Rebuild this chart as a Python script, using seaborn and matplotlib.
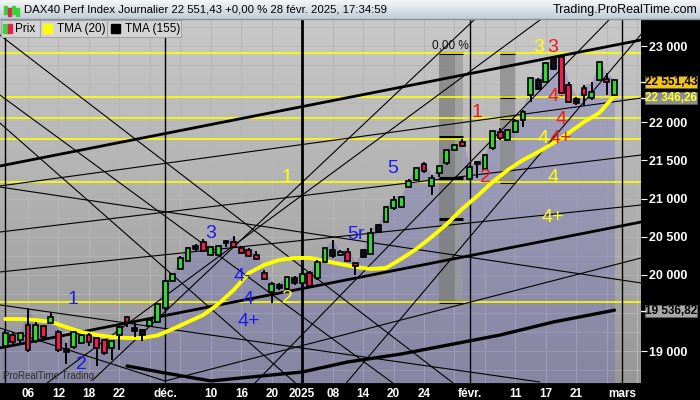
import numpy as np
import pandas as pd
import matplotlib
matplotlib.use("Agg")
import matplotlib.pyplot as plt
import seaborn as sns
from matplotlib.patches import Rectangle
from matplotlib.colors import LinearSegmentedColormap

sns.set_style("white")
plt.rcParams['font.family'] = ['Liberation Sans', 'DejaVu Sans']

# ---- daily candles, 1 nov 2024 -> 28 feb 2025 (trading day index) ----
opens = [19068, 19212, 19147, 19343, 19134, 19330, 19370, 19252, 19010, 19055,
         19108, 19212, 19173, 19147, 19042, 19212, 19448, 19304, 19278, 19330,
         19383, 19566, 19920, 20077, 20182, 20379, 20431, 20261, 20261, 20431,
         20431, 20353, 20326, 20261, 20025, 19776, 19868, 19815, 19959, 19894,
         20025, 19959, 20169, 20326, 20261, 20300, 20156, 20326, 20274, 20654,
         20693, 20877, 20890, 21152, 21244, 21453, 21165, 21336, 21467, 21637,
         21742, 21257, 21480, 21388, 21663, 21873, 21768, 21873, 22030, 22358,
         22554, 22528, 22843, 22856, 22489, 22305, 22450, 22318, 22554, 22567,
         22358]
highs = [19278, 19252, 19252, 19566, 19383, 19343, 19514, 19278, 19108, 19260,
         19225, 19239, 19186, 19147, 19140, 19330, 19461, 19370, 19290, 19420,
         19632, 19933, 20025, 20248, 20366, 20405, 20470, 20380, 20390, 20457,
         20510, 20379, 20353, 20313, 20064, 19907, 19894, 19986, 19986, 20040,
         20050, 20195, 20366, 20457, 20320, 20353, 20160, 20340, 20615, 20670,
         20903, 21034, 21034, 21257, 21420, 21480, 21309, 21440, 21650, 21715,
         21780, 21440, 21493, 21584, 21899, 21925, 21910, 22030, 22161, 22594,
         22581, 22790, 22869, 22869, 22528, 22331, 22489, 22528, 22803, 22646,
         22565]
lows = [19042, 19081, 19100, 18990, 19108, 19147, 19370, 18990, 18832, 19030,
        19095, 19068, 18806, 18950, 18885, 19016, 19317, 19180, 19134, 19320,
        19370, 19540, 19907, 20064, 20169, 20313, 20300, 20250, 20250, 20366,
        20353, 20274, 20235, 20195, 19933, 19632, 19800, 19800, 19868, 19870,
        19842, 19933, 20156, 20221, 20250, 20169, 19999, 20221, 20261, 20549,
        20680, 20851, 20877, 21140, 21230, 21336, 21047, 21283, 21440, 21620,
        21676, 21244, 21270, 21375, 21637, 21768, 21755, 21860, 21938, 22266,
        22423, 22515, 22685, 22371, 22253, 22227, 22214, 22292, 22541, 22358,
        22345]
closes = [19239, 19121, 19239, 19016, 19343, 19186, 19448, 19016, 18995, 19252,
          19212, 19121, 19042, 18977, 19134, 19317, 19383, 19260, 19212, 19409,
          19619, 19920, 20012, 20221, 20353, 20340, 20313, 20366, 20379, 20420,
          20366, 20287, 20248, 20208, 19946, 19881, 19830, 19973, 19900, 20012,
          19855, 20169, 20353, 20250, 20300, 20182, 20117, 20235, 20549, 20562,
          20890, 20982, 21021, 21231, 21401, 21362, 21270, 21427, 21637, 21703,
          21689, 21414, 21453, 21571, 21886, 21794, 21899, 22017, 22135, 22581,
          22436, 22777, 22699, 22384, 22266, 22253, 22358, 22397, 22790, 22528,
          22551]
kinds = list("grgrgrgrkg" "grrrggrkkg" "gggggkrggk" "rrrrrgkgkg" "rggkgrrkgk"
             "gggggrgggg" "rgkggrgggg" "kgkrrkrggr" "g")

# TMA (20) and TMA (155)
tma20_idx = [0, 2, 4, 6, 8, 10, 12, 14, 16, 18, 20, 22, 24, 26, 28, 30, 32, 34, 36, 38,
             40, 42, 44, 46, 48, 50, 52, 54, 56, 58, 60, 62, 64, 66, 68, 70, 72, 74, 76, 78, 80]
tma20_val = [19422, 19422, 19409, 19383, 19317, 19252, 19212, 19186, 19173, 19173,
             19206, 19291, 19383, 19474, 19619, 19802, 20025, 20130, 20196, 20222,
             20222, 20182, 20143, 20104, 20077, 20091, 20209, 20340, 20497, 20667,
             20864, 21034, 21218, 21375, 21506, 21611, 21729, 21860, 22004, 22122, 22346]
tma155_idx = [16, 21, 27, 39, 45, 52, 65, 72, 80]
tma155_val = [18806, 18714, 18610, 18727, 18859, 18963, 19212, 19383, 19537]

# axis ticks
tick_idx = [3, 7, 11, 15, 21, 27, 31, 35, 39, 43, 47, 51, 55, 61, 67, 71, 75, 81]
tick_labels = ["06", "12", "18", "22", "déc.", "10", "16", "20", "2025", "08", "14",
               "20", "24", "févr.", "11", "17", "21", "mars"]
minor_idx = [0, 19, 23, 59, 63, 79, 83]
month_idx = [0, 21, 61, 81]
year_idx = [39]
price_ticks = [19000, 20000, 20500, 21000, 21500, 22000, 23000]

# drawn objects
yellow_levels = [22908, 22332, 22056, 21781, 21218, 19645]
# (i0, p0, i1, p1, width)
trend_lines = [
    (-0.7, 21427, 83.5, 23079, 2.0),
    (-0.7, 19042, 83.5, 20693, 2.0),
    (-0.7, 21165, 83.5, 22318, 0.8),
    (-0.7, 20562, 83.5, 21571, 0.8),
    (-0.7, 20038, 83.5, 20916, 0.8),
    (21.0, 18609, 83.5, 20222, 0.8),
    (-0.7, 21152, 83.5, 19894, 0.8),
    (-0.7, 19606, 70.2, 18596, 0.8),
    (11.5, 18622, 61.7, 23354, 0.8),
    (5.5, 18583, 70.4, 23354, 0.8),
    (32.8, 18583, 79.4, 23354, 0.8),
    (44.8, 18583, 85.2, 23354, 0.8),
    (-0.7, 21991, 38.1, 18583, 0.8),
    (-0.7, 23144, 58.8, 18583, 0.8),
    (-0.7, 22358, 50.9, 18583, 0.8),
    (-0.7, 19304, 21.0, 18609, 0.8),
]
bands = [(57.0, 59.1, 19645, 22908, "#7c7c7c"), (59.1, 60.1, 19645, 22908, "#9a9a9a"),
         (65.0, 67.0, 21218, 22908, "#8a8a8a")]
band_marks = [(57.0, 60.1, 22908), (57.0, 60.1, 21807), (57.0, 60.1, 21270),
              (57.0, 60.1, 20733), (57.0, 60.1, 19645), (65.0, 67.0, 22908),
              (65.0, 67.0, 22332), (65.0, 67.0, 22056), (65.0, 67.0, 21218)]

wave_text = ["1", "2", "3", "4-", "4", "4+", "5r", "5",
             "1", "2", "3", "4", "4", "4+",
             "1", "2", "3", "4-", "4", "4+"]
wave_idx = [8.9, 10.0, 27.0, 31.1, 31.9, 32.0, 46.0, 50.9,
            37.0, 37.0, 70.0, 70.6, 71.9, 71.9,
            62.0, 63.0, 71.9, 72.4, 73.0, 73.0]
wave_price = [19684, 18832, 20549, 19973, 19684, 19383, 20523, 21388,
              21270, 19697, 22987, 21794, 21283, 20746,
              22122, 21270, 22987, 22332, 22043, 21794]
wave_color = ["#1c1cf0"] * 8 + ["#ffff10"] * 6 + ["#f01818"] * 6

df = pd.DataFrame({"open": opens, "high": highs, "low": lows, "close": closes, "kind": kinds})
df["idx"] = np.arange(len(df))

xmin, xmax = -0.68, 83.49
ymin, ymax = 18583, 23354

fig = plt.figure(figsize=(7, 4), dpi=100, facecolor="black")
ax = fig.add_axes([0, 17 / 400, 641 / 700, 364 / 400])

bg = LinearSegmentedColormap.from_list("bg", ["#979797", "#c9c9c9"])
ax.imshow(np.linspace(1, 0, 256).reshape(-1, 1), extent=[xmin, xmax, ymin, ymax],
          aspect="auto", cmap=bg, vmin=0, vmax=1, origin="upper", zorder=0)

# grid
for t in tick_idx + minor_idx:
    ax.axvline(t, color="#b6b6b6", lw=0.8, zorder=1)
for p in range(18750, 23500, 250):
    ax.axhline(p, color="#b6b6b6", lw=0.6, zorder=1)

# mountain under the highs
ax.fill_between([xmin] + list(df["idx"]), [highs[0]] + highs, ymin,
                color="#5a5ac0", alpha=0.28, lw=0, zorder=1.5)

for x0, x1, p0, p1, c in bands:
    ax.add_patch(Rectangle((x0, p0), x1 - x0, p1 - p0, color=c, alpha=0.75, lw=0, zorder=2))
for x0, x1, p in band_marks:
    ax.plot([x0, x1], [p, p], color="black", lw=2.2, zorder=3, solid_capstyle="butt")

for p in yellow_levels:
    ax.axhline(p, color="#ffff00", lw=1.2, zorder=3)
for i0, p0, i1, p1, w in trend_lines:
    ax.plot([i0, i1], [p0, p1], color="black", lw=w, zorder=3)
for m in month_idx:
    ax.axvline(m, color="black", lw=1.0, zorder=3)
for m in year_idx:
    ax.axvline(m, color="black", lw=2.0, zorder=3)

sns.lineplot(x=tma155_idx, y=tma155_val, ax=ax, color="black", lw=2.4, zorder=4)
sns.lineplot(x=tma20_idx, y=tma20_val, ax=ax, color="#ffff00", lw=2.8, zorder=5)

fills = {"g": "#3ad23a", "r": "#ea1f4c", "k": "#111111"}
ax.vlines(df["idx"], df["low"], df["high"], color="black", lw=1.4, zorder=6)
for _, r in df.iterrows():
    lo = min(r["open"], r["close"])
    h = max(abs(r["close"] - r["open"]), 28)
    ax.add_patch(Rectangle((r["idx"] - 0.32, lo), 0.64, h, facecolor=fills[r["kind"]],
                           edgecolor="black", lw=1.2, zorder=7))

for t, i, p, c in zip(wave_text, wave_idx, wave_price, wave_color):
    ax.text(i, p, t, color=c, fontsize=14, ha="center", va="center", zorder=8)
ax.text(58.4, 23013, "0,00 %", color="#111111", fontsize=8.5, ha="center", va="center", zorder=8)

ax.set_xlim(xmin, xmax)
ax.set_ylim(ymin, ymax)
ax.set_xticks(tick_idx, tick_labels)
ax.set_xticks(minor_idx, minor=True)
ax.yaxis.tick_right()
ax.set_yticks(price_ticks, [f"{v:,}".replace(",", " ") for v in price_ticks])
ax.tick_params(axis="x", which="both", length=3, color="#909090", labelcolor="white",
               labelsize=8.5, pad=0.5)
ax.tick_params(axis="y", length=4, color="white", labelcolor="white", labelsize=9, pad=2)
for lbl in ax.get_xticklabels() + ax.get_yticklabels():
    lbl.set_fontweight("bold")
for s in ax.spines.values():
    s.set_visible(False)

# overlay in pixel units: title bar, legend, price tags
ov = fig.add_axes([0, 0, 1, 1], zorder=10)
ov.axis("off")
tb = LinearSegmentedColormap.from_list("tb", ["#c2ccd6", "#f4f6f8"])
ov.imshow(np.linspace(1, 0, 64).reshape(-1, 1), extent=[0, 700, 19, 0], aspect="auto",
          cmap=tb, vmin=0, vmax=1, origin="upper")
ov.plot([0, 700], [19, 19], color="#8a929a", lw=1)
for k, (x, c) in enumerate([(4, "#3ad23a"), (8, "#ea1f4c"), (12, "#3ad23a"), (16, "#3ad23a")]):
    ov.add_patch(Rectangle((x, 6 + k % 2 * 2), 2.5, 8, color=c))
ov.text(24, 10, "DAX40 Perf Index Journalier 22 551,43 +0,00 % 28 févr. 2025, 17:34:59",
        fontsize=8.2, va="center", ha="left", color="black")
ov.text(697, 10, "Trading.ProRealTime.com", fontsize=9, va="center", ha="right", color="black")

for x0, x1 in [(1, 40), (40, 107), (107, 181)]:
    ov.add_patch(Rectangle((x0, 20), x1 - x0, 17, facecolor="#d4d4d4", edgecolor="#a4a4a4", lw=0.8))
ov.add_patch(Rectangle((3, 24), 4.5, 9, color="#3ad23a"))
ov.add_patch(Rectangle((7.5, 24), 4.5, 9, color="#ea1f4c"))
ov.add_patch(Rectangle((43, 24), 9, 9, color="#ffff00"))
ov.add_patch(Rectangle((111, 24), 9, 9, color="black"))
for x, t in [(15, "Prix"), (57, "TMA (20)"), (125, "TMA (155)")]:
    ov.text(x, 29, t, fontsize=8.5, va="center", ha="left", color="black")

for y, t, fc, tc in [(82, "22 551,43", "#f5c412", "black"), (98, "22 346,26", "#8e8e8e", "#ffff30"),
                     (311, "19 536,82", "#a8a8a8", "black")]:
    ov.add_patch(Rectangle((645, y - 6), 52, 12, facecolor=fc, edgecolor="#606060", lw=0.6))
    ov.plot([641, 645], [y, y], color="white", lw=1)
    ov.text(671, y, t, fontsize=8.5, fontweight="bold", color=tc, ha="center", va="center")

ov.text(3, 376, "ProRealTime Trading", fontsize=7, color="#303030", va="center", ha="left")
ov.set_xlim(0, 700)
ov.set_ylim(400, 0)

fig.savefig("out.png", dpi=100, facecolor=fig.get_facecolor())
